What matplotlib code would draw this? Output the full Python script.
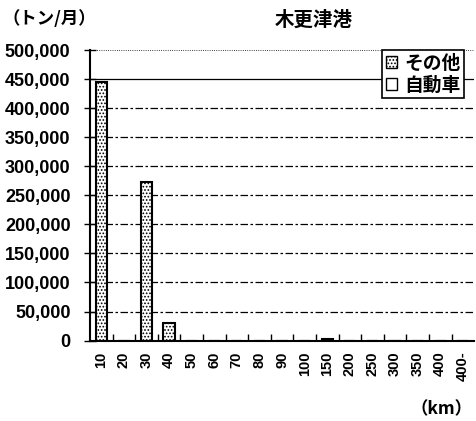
import matplotlib
matplotlib.use("Agg")
import matplotlib.pyplot as plt
import numpy as np
from matplotlib.patches import Patch

plt.rcParams['font.family'] = ['Liberation Sans', 'Noto Sans CJK JP']
plt.rcParams['font.weight'] = 'bold'
plt.rcParams['hatch.linewidth'] = 0.8

categories = ["10", "20", "30", "40", "50", "60", "70", "80", "90", "100",
              "150", "200", "250", "300", "350", "400", "400-"]
jidosha = [0] * 17
sonota = [445000, 0, 273000, 30000, 0, 0, 0, 0, 0, 0, 2000, 0, 0, 0, 0, 0, 0]
yticks = list(range(0, 500001, 50000))

fig = plt.figure(figsize=(4.76, 4.21), dpi=100)
ax = fig.add_axes([0.189, 0.191, 0.807, 0.69])

x = np.arange(len(categories))
w = 0.5
ax.bar(x, jidosha, w, color='white', edgecolor='black', linewidth=1.5)
ax.bar(x, sonota, w, bottom=jidosha, color='white', edgecolor='black',
       linewidth=1.5, hatch='.....')

ax.set_xlim(-0.5, len(categories) - 0.5)
ax.set_ylim(0, 500000)
ax.set_yticks(yticks)
ax.set_yticklabels([f"{v:,}" for v in yticks], fontsize=13, fontweight='bold')
ax.set_xticks(x)
ax.set_xticklabels(categories, rotation=90, fontsize=10.5, fontweight='bold')
ax.tick_params(axis='x', length=0, pad=8)
ax.tick_params(axis='y', direction='inout', length=8, width=1, pad=10)
ax.set_xticks(np.arange(0.5, len(categories) - 1, 1), minor=True)
ax.tick_params(axis='x', which='minor', direction='in', length=5, width=1)

for v in yticks[1:]:
    if v == 500000:
        ax.axhline(v, color='black', lw=0.6, ls=':', zorder=0)
    elif v == 450000:
        ax.axhline(v, color='black', lw=0.9, ls='-', zorder=0)
    else:
        ax.axhline(v, color='black', lw=0.9, ls=(0, (6, 2, 2, 2)), zorder=0)

ax.spines['top'].set_visible(False)
ax.spines['right'].set_visible(False)
ax.spines['left'].set_linewidth(1.5)
ax.spines['bottom'].set_linewidth(1.5)

handles = [Patch(facecolor='white', edgecolor='black', hatch='.....', label='その他'),
           Patch(facecolor='white', edgecolor='black', label='自動車')]
leg = ax.legend(handles=handles, loc='upper right', bbox_to_anchor=(0.975, 1.0),
                prop={'family': 'Noto Sans CJK JP', 'weight': 'bold', 'size': 13.5},
                frameon=True, fancybox=False, edgecolor='black', framealpha=1,
                handlelength=0.6, handleheight=0.6, handletextpad=0.4,
                borderpad=0.2, labelspacing=0.15, borderaxespad=0)
leg.get_frame().set_linewidth(1.2)

fig.text(0.66, 0.952, '木更津港', ha='center', va='center', fontsize=14,
         fontweight='bold', family='Noto Sans CJK JP')
fig.text(0.005, 0.955, '（トン/月）', ha='left', va='center', fontsize=12.5,
         fontweight='bold', family='Noto Sans CJK JP')
fig.text(0.993, 0.027, '（km）', ha='right', va='center', fontsize=12.5,
         fontweight='bold', family='Noto Sans CJK JP')

fig.savefig('out.png', dpi=100)
